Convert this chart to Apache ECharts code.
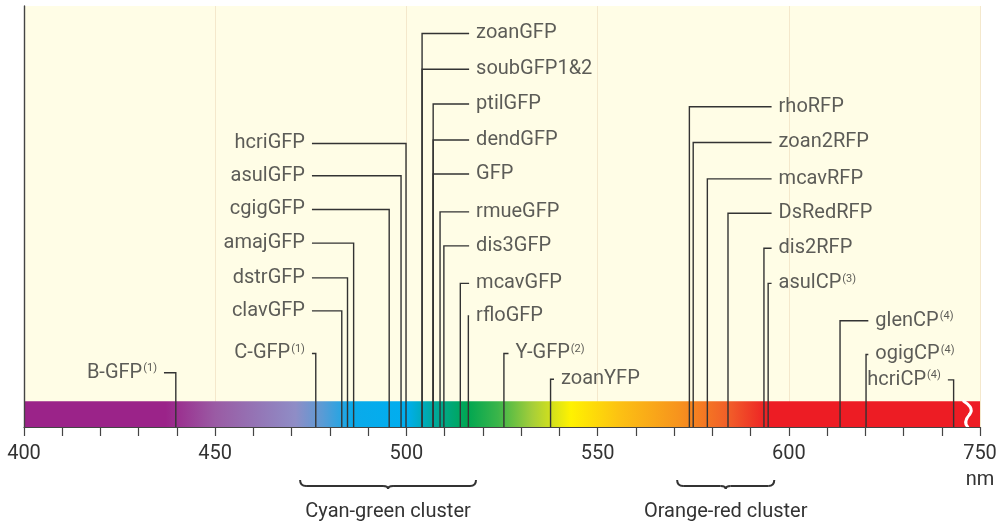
<!DOCTYPE html>
<html>
<head>
<meta charset="utf-8">
<script src="https://cdn.jsdelivr.net/npm/echarts@6/dist/echarts.min.js"></script>
<style>
  html, body { margin: 0; padding: 0; background: #fff; }
  #main { width: 1002px; height: 525px; }
</style>
</head>
<body>
<div id="main"></div>
<script>
// proteins, peak wavelength (nm) and the row height of their label
var proteins = ['zoanGFP', 'soubGFP1&2', 'ptilGFP', 'dendGFP', 'GFP', 'rmueGFP', 'dis3GFP', 'mcavGFP', 'rfloGFP',
	'hcriGFP', 'asulGFP', 'cgigGFP', 'amajGFP', 'dstrGFP', 'clavGFP', 'C-GFP', 'B-GFP', 'Y-GFP', 'zoanYFP',
	'rhoRFP', 'zoan2RFP', 'mcavRFP', 'DsRedRFP', 'dis2RFP', 'asulCP', 'glenCP', 'ogigCP', 'hcriCP'];
var peakNm = [504.1, 504.1, 507.0, 507.0, 507.0, 508.8, 509.8, 514.1, 516.2,
	499.9, 498.6, 495.5, 486.2, 484.6, 483.1, 476.3, 439.7, 525.5, 537.7,
	574.0, 575.0, 578.7, 584.1, 593.5, 594.6, 613.4, 620.2, 643.1];
var rowLevel = [10.70, 9.66, 8.65, 7.60, 6.61, 5.51, 4.52, 3.43, 2.48,
	7.50, 6.56, 5.58, 4.60, 3.59, 2.63, 1.39, 0.83, 1.39, 0.64,
	8.57, 7.53, 6.47, 5.47, 4.45, 3.43, 2.34, 1.36, 0.62];
var notes = ['', '', '', '', '', '', '', '', '',
	'', '', '', '', '', '', '(1)', '(1)', '(2)', '',
	'', '', '', '', '', '(3)', '(4)', '(4)', '(4)'];
var columnOf = ['g', 'g', 'g', 'g', 'g', 'g', 'g', 'g', 'g',
	'c', 'c', 'c', 'c', 'c', 'c', 'c', 'b', 'y', 'yz',
	'r', 'r', 'r', 'r', 'r', 'r', 'p', 'p', 'h'];

// axis ticks
var tickValues = [400, 450, 500, 550, 600, 650];
var tickText = ['400', '450', '500', '550', '600', '750'];
var breakNm = 646.8;

// clusters
var clusterNames = ['Cyan-green cluster', 'Orange-red cluster'];
var clusterRanges = [[472.2, 518.2], [570.8, 596.2]];

// spectrum colour stops
var spectrumNm = [400, 437, 450, 471, 478, 486, 500, 507, 516, 524, 533, 543, 556, 571, 585, 595, 650];
var spectrumColors = ['#9b2389', '#9b2389', '#9a5ba4', '#8f8dc6', '#5a9bd5', '#0aaaea', '#00aeef', '#00a99e', '#00a651',
	'#3bb54a', '#a6ce39', '#fff200', '#fcc013', '#f7941d', '#f15a29', '#ed1c24', '#ed1c24'];

// layout of label columns (anchor in nm, side of label)
var columns = {
	c: { at: 475.3, side: 'left' },
	b: { at: 436.6, side: 'left' },
	g: { at: 516.4, side: 'right' },
	y: { at: 526.7, side: 'right' },
	yz: { at: 538.6, side: 'right' },
	r: { at: 595.5, side: 'right' },
	p: { at: 620.8, side: 'right' },
	h: { at: 641.6, side: 'left' }
};

var X_MIN = 400, X_MAX = 650, Y_MIN = -0.75, Y_MAX = 11.5;
var FONT = 'Roboto, "Liberation Sans", sans-serif';
var INK = '#333';

var leaderData = [];
var labelData = [];
for (var i = 0; i < proteins.length; i++) {
	var col = columns[columnOf[i]];
	leaderData.push({
		coords: [[col.at, rowLevel[i]], [peakNm[i], rowLevel[i]], [peakNm[i], Y_MIN]]
	});
	labelData.push({
		value: [col.at, rowLevel[i]],
		label: {
			position: col.side,
			formatter: proteins[i] + (notes[i] ? '{s|' + notes[i] + '}' : '')
		}
	});
}

function renderDecor(params, api) {
	var p0 = api.coord([X_MIN, 0]);
	var p1 = api.coord([X_MAX, Y_MIN]);
	var stops = [];
	for (var k = 0; k < spectrumNm.length; k++) {
		stops.push({ offset: (spectrumNm[k] - X_MIN) / (X_MAX - X_MIN), color: spectrumColors[k] });
	}
	var children = [];
	children.push({
		type: 'rect',
		shape: { x: p0[0], y: p0[1], width: p1[0] - p0[0], height: p1[1] - p0[1] },
		style: { fill: new echarts.graphic.LinearGradient(0, 0, 1, 0, stops) }
	});
	// break mark (S shaped)
	var bx = api.coord([breakNm, 0])[0];
	var top = p0[1], bot = p1[1], h = bot - top;
	var ws = { stroke: '#fff', lineWidth: 3, fill: null, lineCap: 'round' };
	children.push({
		type: 'bezierCurve',
		shape: { x1: bx - 4, y1: top, cpx1: bx + 1, cpy1: top + h * 0.12, cpx2: bx + 6, cpy2: top + h * 0.3, x2: bx + 2, y2: top + h * 0.5 },
		style: ws
	});
	children.push({
		type: 'bezierCurve',
		shape: { x1: bx + 2, y1: top + h * 0.5, cpx1: bx - 2, cpy1: top + h * 0.68, cpx2: bx - 4, cpy2: top + h * 0.85, x2: bx, y2: bot },
		style: ws
	});
	// cluster braces
	for (var c = 0; c < clusterNames.length; c++) {
		var a = api.coord([clusterRanges[c][0], Y_MIN]);
		var b = api.coord([clusterRanges[c][1], Y_MIN]);
		var m = (a[0] + b[0]) / 2;
		var yT = a[1] + 53, yL = a[1] + 59;
		var st = { stroke: INK, lineWidth: 2, fill: null };
		children.push({ type: 'bezierCurve', shape: { x1: a[0], y1: yT, cpx1: a[0], cpy1: yL, x2: a[0] + 6, y2: yL }, style: st });
		children.push({ type: 'line', shape: { x1: a[0] + 6, y1: yL, x2: m - 5, y2: yL }, style: st });
		children.push({ type: 'bezierCurve', shape: { x1: m - 5, y1: yL, cpx1: m, cpy1: yL, x2: m, y2: yL + 3 }, style: st });
		children.push({ type: 'bezierCurve', shape: { x1: m, y1: yL + 3, cpx1: m, cpy1: yL, x2: m + 5, y2: yL }, style: st });
		children.push({ type: 'line', shape: { x1: m + 5, y1: yL, x2: b[0] - 6, y2: yL }, style: st });
		children.push({ type: 'bezierCurve', shape: { x1: b[0] - 6, y1: yL, cpx1: b[0], cpy1: yL, x2: b[0], y2: yT }, style: st });
		children.push({
			type: 'text',
			style: {
				x: m, y: a[1] + 85, text: clusterNames[c], fill: INK,
				fontSize: 20, fontFamily: FONT, align: 'center', verticalAlign: 'middle'
			}
		});
	}
	return { type: 'group', children: children };
}

var chart = echarts.init(document.getElementById('main'), null, { renderer: 'canvas' });
var option = {
	animation: false,
	backgroundColor: '#fff',
	grid: {
		left: 24, right: 22, top: 6, bottom: 98,
		show: true, backgroundColor: '#fffde6', borderWidth: 0
	},
	xAxis: [{
		type: 'value', min: X_MIN, max: X_MAX, interval: 50, z: 5,
		axisLine: { show: true, onZero: false, lineStyle: { color: '#444', width: 1.2 } },
		axisTick: { show: true, length: 9, lineStyle: { color: '#444', width: 1.2 } },
		minorTick: { show: true, splitNumber: 5, length: 9, lineStyle: { color: '#444', width: 1.2 } },
		splitLine: { show: false },
		axisLabel: {
			margin: 14, showMinLabel: true, showMaxLabel: true,
			fontSize: 20, fontFamily: FONT, color: INK, lineHeight: 26,
			formatter: function (v) {
				var idx = tickValues.indexOf(v);
				if (idx < 0) return '';
				return v === X_MAX ? tickText[idx] + '\nnm' : tickText[idx];
			}
		}
	}, {
		type: 'value', min: X_MIN, max: X_MAX, interval: 50, position: 'bottom', z: 0,
		axisLine: { show: false }, axisTick: { show: false }, axisLabel: { show: false },
		splitLine: { show: true, lineStyle: { color: '#f4e8cc', width: 1 } }
	}],
	yAxis: {
		type: 'value', min: Y_MIN, max: Y_MAX, z: 5,
		axisLine: { show: true, onZero: false, lineStyle: { color: '#444', width: 1.4 } },
		axisTick: { show: false }, axisLabel: { show: false }, splitLine: { show: false }
	},
	series: [{
		type: 'custom',
		xAxisIndex: 0,
		renderItem: renderDecor,
		data: [[X_MIN, 0]],
		silent: true,
		z: 1
	}, {
		type: 'lines',
		coordinateSystem: 'cartesian2d',
		xAxisIndex: 0,
		polyline: true,
		silent: true,
		z: 3,
		lineStyle: { color: INK, width: 1.4, opacity: 1 },
		data: leaderData
	}, {
		type: 'scatter',
		xAxisIndex: 0,
		symbolSize: 0,
		silent: true,
		z: 4,
		label: {
			show: true, distance: 7,
			fontSize: 20, fontFamily: FONT, color: INK,
			rich: { s: { fontSize: 11, fontFamily: FONT, color: INK, verticalAlign: 'top', padding: [0, 0, 0, 1] } }
		},
		data: labelData
	}]
};
chart.setOption(option);
</script>
</body>
</html>
